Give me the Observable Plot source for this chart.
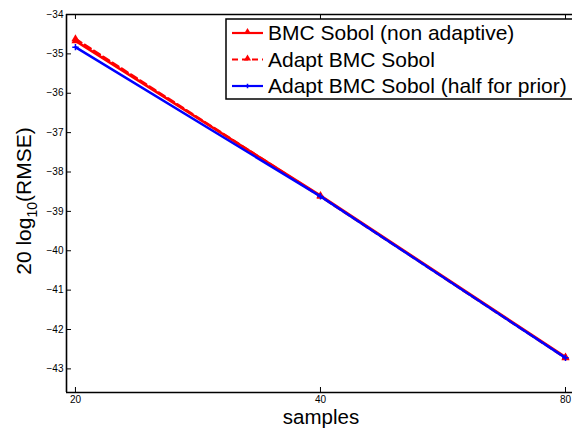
<!DOCTYPE html>
<html>
<head>
<meta charset="utf-8">
<script src="https://cdn.jsdelivr.net/npm/d3@7"></script>
<script src="https://cdn.jsdelivr.net/npm/@observablehq/plot@0.6"></script>
<style>
  html, body { margin: 0; padding: 0; background: #fff; }
  #chart { position: relative; width: 572px; height: 428px; }
  svg { font-family: "Liberation Sans", Arial, sans-serif; }
</style>
</head>
<body>
<div id="chart"></div>
<script>
// ---- data ----
const samples = [20, 40, 80];
const bmcSobol = [-34.67, -38.6, -42.7];
const adaptBmcSobol = [-34.62, -38.62, -42.72];
const adaptHalfPrior = [-34.83, -38.62, -42.72];
const seriesNames = ["BMC Sobol (non adaptive)", "Adapt BMC Sobol", "Adapt BMC Sobol (half for prior)"];
const xTicks = [20, 40, 80];
const yTicks = [-43, -42, -41, -40, -39, -38, -37, -36, -35, -34];
const xDomain = [19.5, 81.6];
const yDomain = [-43.6, -34];

const rows = (vals, name) => samples.map((s, i) => ({samples: s, value: vals[i], series: name}));
const sA = rows(bmcSobol, seriesNames[0]);
const sB = rows(adaptBmcSobol, seriesNames[1]);
const sC = rows(adaptHalfPrior, seriesNames[2]);

const W = 572, H = 428, ML = 66, MR = 0, MT = 14, MB = 36;
const plotW = W - ML - MR, plotH = H - MT - MB;

const plot = Plot.plot({
  width: W,
  height: H,
  marginLeft: ML,
  marginRight: MR,
  marginTop: MT,
  marginBottom: MB,
  style: {fontFamily: "Liberation Sans, Arial, sans-serif", fontSize: "10px", background: "#fff"},
  x: {type: "log", domain: xDomain},
  y: {domain: yDomain},
  marks: [
    Plot.axisY(yTicks, {tickSize: 0, tickPadding: 3, fontSize: 10, label: null, tickFormat: d => String(d).replace("-", "\u2212")}),
    Plot.axisX(xTicks, {anchor: "bottom", tickSize: 0, tickPadding: 3, fontSize: 10, label: null, tickFormat: d => d}),
    Plot.tickY(yTicks, {y: d => d, stroke: "#000", strokeWidth: 1, insetRight: plotW - 5}),
    Plot.tickX(xTicks, {x: d => d, stroke: "#000", strokeWidth: 1, insetTop: plotH - 5}),
    Plot.tickX(xTicks, {x: d => d, stroke: "#000", strokeWidth: 1, insetBottom: plotH - 5}),
    Plot.ruleX([xDomain[0]], {stroke: "#000", strokeWidth: 1.6}),
    Plot.ruleY(yDomain, {stroke: "#000", strokeWidth: 1.6}),
    Plot.line(sA, {x: "samples", y: "value", stroke: "#ff0000", strokeWidth: 2.5}),
    Plot.line(sB, {x: "samples", y: "value", stroke: "#ff0000", strokeWidth: 2.5, strokeDasharray: "7,4"}),
    Plot.dot(sA, {x: "samples", y: "value", symbol: "triangle", r: 3, fill: "#ff0000"}),
    Plot.dot(sB, {x: "samples", y: "value", symbol: "triangle", r: 3, fill: "#ff0000"}),
    Plot.line(sC, {x: "samples", y: "value", stroke: "#0000ff", strokeWidth: 2.5}),
    Plot.dot(sC, {x: "samples", y: "value", symbol: "plus", r: 2.2, stroke: "#0000ff", strokeWidth: 1.5})
  ]
});
document.getElementById("chart").appendChild(plot);

const svg = d3.select(plot);
// axis labels
const yl = svg.append("text")
  .attr("transform", "translate(31,201) rotate(-90)")
  .attr("text-anchor", "middle")
  .attr("font-size", 21)
  .attr("fill", "#000");
yl.append("tspan").text("20 log");
yl.append("tspan").attr("font-size", 14).attr("dy", 6).text("10");
yl.append("tspan").attr("dy", -6).text("(RMSE)");

svg.append("text")
  .attr("x", 321).attr("y", 424)
  .attr("text-anchor", "middle")
  .attr("font-size", 20.5)
  .attr("fill", "#000")
  .text("samples");

// legend
const lg = svg.append("g").attr("text-anchor", "start");
lg.append("rect").attr("x", 226).attr("y", 19).attr("width", 350).attr("height", 80)
  .attr("fill", "#fff").attr("stroke", "#000").attr("stroke-width", 1.5);
const styles = [
  {stroke: "#ff0000", dash: null, sym: "tri"},
  {stroke: "#ff0000", dash: "6,4", sym: "tri"},
  {stroke: "#0000ff", dash: null, sym: "plus"}
];
seriesNames.forEach((name, i) => {
  const cy = 33 + i * 26.5;
  const st = styles[i];
  lg.append("line").attr("x1", 232).attr("x2", 263).attr("y1", cy).attr("y2", cy)
    .attr("stroke", st.stroke).attr("stroke-width", 2.2)
    .attr("stroke-dasharray", st.dash);
  if (st.sym === "tri") {
    lg.append("path").attr("d", d3.symbol(d3.symbolTriangle, 22)())
      .attr("transform", `translate(247.5,${cy - 1})`).attr("fill", st.stroke);
  } else {
    lg.append("path").attr("d", d3.symbol(d3.symbolCross, 12)())
      .attr("transform", `translate(247.5,${cy})`).attr("fill", st.stroke);
  }
  lg.append("text").attr("x", 268).attr("y", cy).attr("dy", "0.35em")
    .attr("text-anchor", "start")
    .attr("font-size", 21).attr("fill", "#000").text(name);
});
</script>
</body>
</html>
